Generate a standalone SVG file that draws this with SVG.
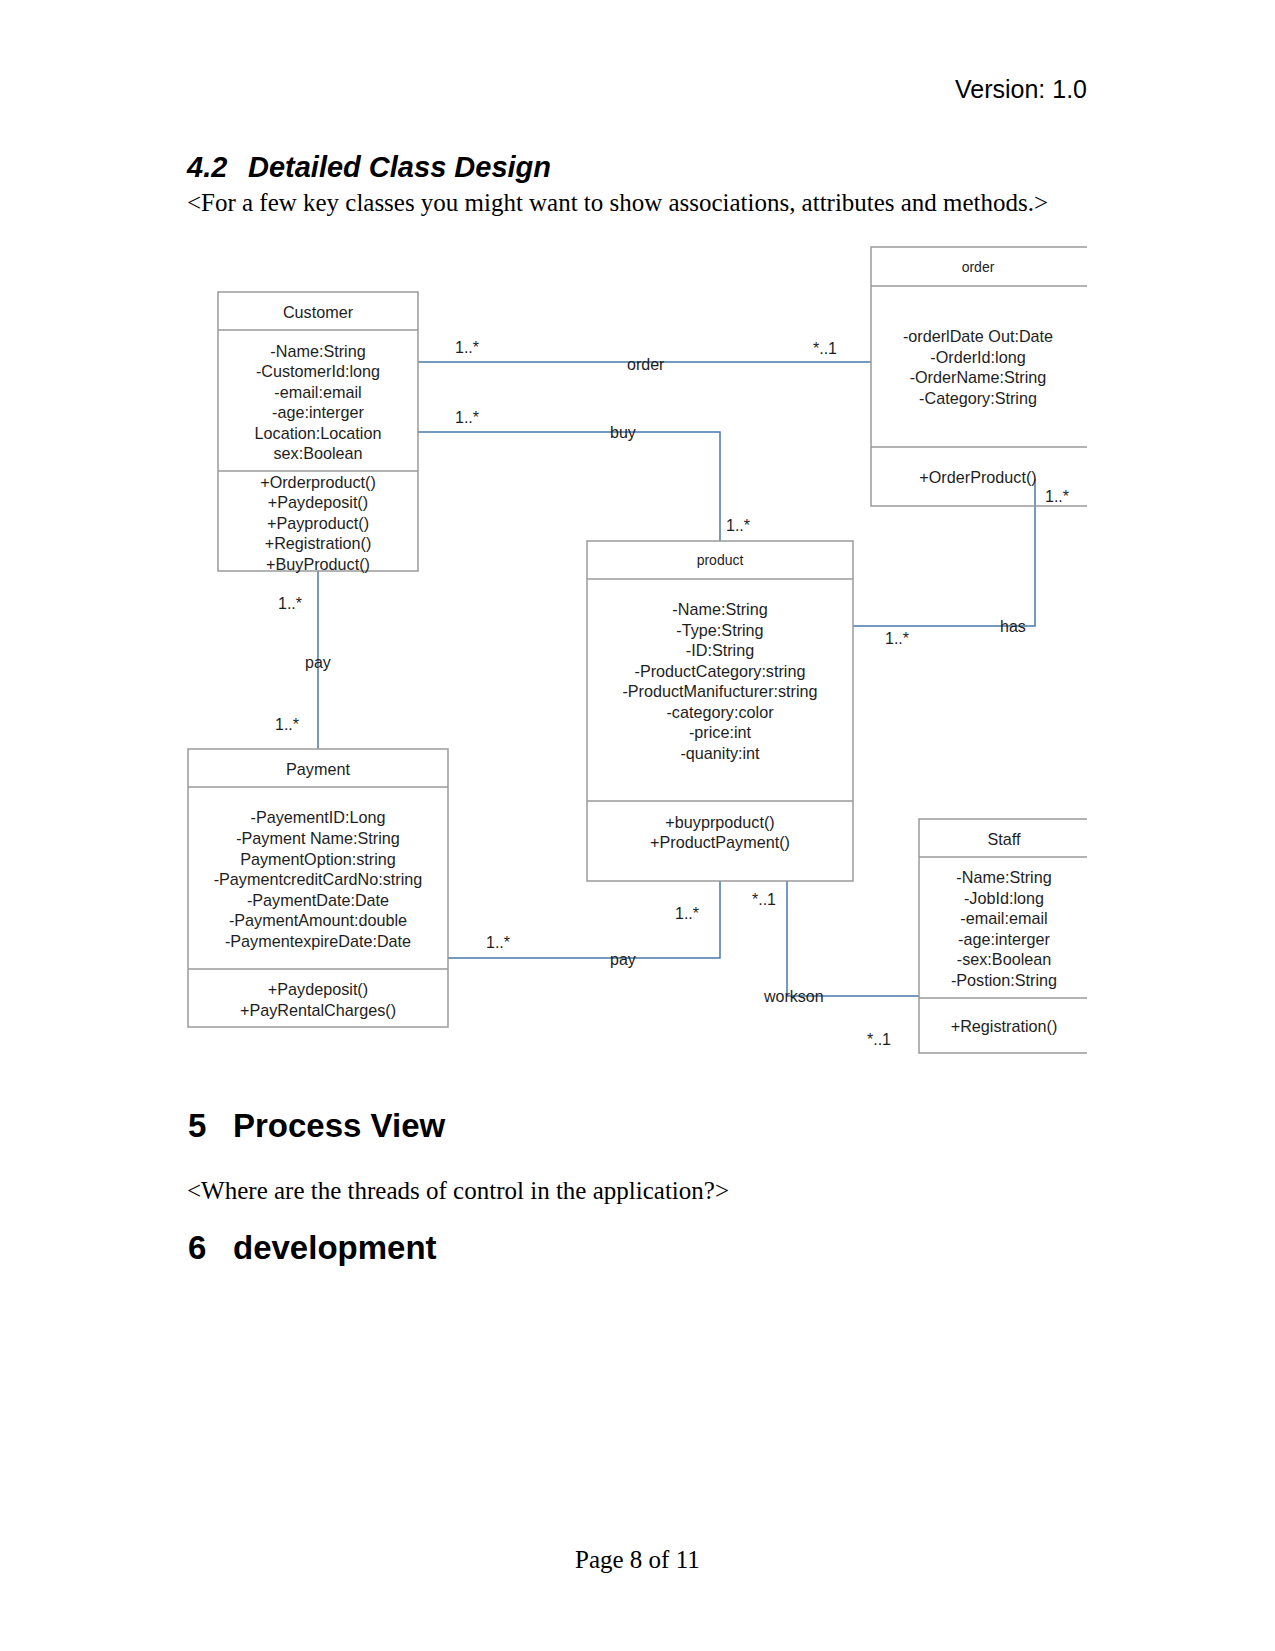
<svg xmlns="http://www.w3.org/2000/svg" width="1275" height="1651" viewBox="0 0 1275 1651">
<style>
.doc{font-family:"Liberation Sans",Arial,sans-serif;fill:#000}
.ser{font-family:"Liberation Serif","Times New Roman",serif;fill:#000;font-size:25px}
.box{fill:#fff;stroke:#9a9a9a;stroke-width:1.5}
.sep{stroke:#9a9a9a;stroke-width:1.5;fill:none}
.t{font-family:"Liberation Sans",Arial,sans-serif;font-size:16.2px;fill:#1e1e1e;text-anchor:middle}
.ts{font-family:"Liberation Sans",Arial,sans-serif;font-size:14px;fill:#1e1e1e;text-anchor:middle}
.lbl{font-family:"Liberation Sans",Arial,sans-serif;font-size:16px;fill:#1e1e1e}
.con{stroke:#4a7aab;stroke-width:1.5;fill:none}
</style>
<rect width="1275" height="1651" fill="#fff"/>

<text class="doc" x="1087" y="98" font-size="25" text-anchor="end">Version: 1.0</text>
<text class="doc" x="187" y="177" font-size="29" font-weight="bold" font-style="italic">4.2</text>
<text class="doc" x="248" y="177" font-size="29" font-weight="bold" font-style="italic">Detailed Class Design</text>
<text class="ser" x="187" y="211" textLength="861" lengthAdjust="spacingAndGlyphs">&lt;For a few key classes you might want to show associations, attributes and methods.&gt;</text>

<g id="connectors">
<polyline class="con" points="418,362 871,362"/>
<polyline class="con" points="418,432 720,432 720,541"/>
<polyline class="con" points="318,571 318,749"/>
<polyline class="con" points="853,626 1035,626 1035,479"/>
<polyline class="con" points="448,958 720,958 720,881"/>
<polyline class="con" points="787,881 787,996 919,996"/>
<text class="lbl" x="455" y="353">1..*</text>
<text class="lbl" x="813" y="354">*..1</text>
<text class="lbl" x="627" y="370">order</text>
<text class="lbl" x="455" y="423">1..*</text>
<text class="lbl" x="610" y="438">buy</text>
<text class="lbl" x="726" y="531">1..*</text>
<text class="lbl" x="1045" y="502">1..*</text>
<text class="lbl" x="1000" y="632">has</text>
<text class="lbl" x="885" y="644">1..*</text>
<text class="lbl" x="278" y="609">1..*</text>
<text class="lbl" x="305" y="668">pay</text>
<text class="lbl" x="275" y="730">1..*</text>
<text class="lbl" x="486" y="948">1..*</text>
<text class="lbl" x="610" y="965">pay</text>
<text class="lbl" x="675" y="919">1..*</text>
<text class="lbl" x="752" y="905">*..1</text>
<text class="lbl" x="764" y="1002">workson</text>
<text class="lbl" x="867" y="1045">*..1</text>
</g>

<g id="customer">
<rect class="box" x="218" y="292" width="200" height="279"/>
<line class="sep" x1="218" y1="330" x2="418" y2="330"/>
<line class="sep" x1="218" y1="471" x2="418" y2="471"/>
<text class="t" x="318" y="318">Customer</text>
<text class="t" x="318" y="357">-Name:String</text>
<text class="t" x="318" y="377">-CustomerId:long</text>
<text class="t" x="318" y="398">-email:email</text>
<text class="t" x="318" y="418">-age:interger</text>
<text class="t" x="318" y="439">Location:Location</text>
<text class="t" x="318" y="459">sex:Boolean</text>
<text class="t" x="318" y="488">+Orderproduct()</text>
<text class="t" x="318" y="508">+Paydeposit()</text>
<text class="t" x="318" y="529">+Payproduct()</text>
<text class="t" x="318" y="549">+Registration()</text>
<text class="t" x="318" y="570">+BuyProduct()</text>
</g>

<g id="order">
<polyline class="sep" points="1087,247 871,247 871,506 1087,506"/>
<line class="sep" x1="871" y1="286" x2="1087" y2="286"/>
<line class="sep" x1="871" y1="447" x2="1087" y2="447"/>
<text class="ts" x="978" y="272">order</text>
<text class="t" x="978" y="342">-orderlDate Out:Date</text>
<text class="t" x="978" y="363">-OrderId:long</text>
<text class="t" x="978" y="383">-OrderName:String</text>
<text class="t" x="978" y="404">-Category:String</text>
<text class="t" x="978" y="483">+OrderProduct()</text>
</g>

<g id="product">
<rect class="box" x="587" y="541" width="266" height="340"/>
<line class="sep" x1="587" y1="579" x2="853" y2="579"/>
<line class="sep" x1="587" y1="801" x2="853" y2="801"/>
<text class="ts" x="720" y="565">product</text>
<text class="t" x="720" y="615">-Name:String</text>
<text class="t" x="720" y="636">-Type:String</text>
<text class="t" x="720" y="656">-ID:String</text>
<text class="t" x="720" y="677">-ProductCategory:string</text>
<text class="t" x="720" y="697">-ProductManifucturer:string</text>
<text class="t" x="720" y="718">-category:color</text>
<text class="t" x="720" y="738">-price:int</text>
<text class="t" x="720" y="759">-quanity:int</text>
<text class="t" x="720" y="828">+buyprpoduct()</text>
<text class="t" x="720" y="848">+ProductPayment()</text>
</g>

<g id="payment">
<rect class="box" x="188" y="749" width="260" height="278"/>
<line class="sep" x1="188" y1="787" x2="448" y2="787"/>
<line class="sep" x1="188" y1="969" x2="448" y2="969"/>
<text class="t" x="318" y="775">Payment</text>
<text class="t" x="318" y="823">-PayementID:Long</text>
<text class="t" x="318" y="844">-Payment Name:String</text>
<text class="t" x="318" y="865">PaymentOption:string</text>
<text class="t" x="318" y="885">-PaymentcreditCardNo:string</text>
<text class="t" x="318" y="906">-PaymentDate:Date</text>
<text class="t" x="318" y="926">-PaymentAmount:double</text>
<text class="t" x="318" y="947">-PaymentexpireDate:Date</text>
<text class="t" x="318" y="995">+Paydeposit()</text>
<text class="t" x="318" y="1016">+PayRentalCharges()</text>
</g>

<g id="staff">
<polyline class="sep" points="1087,819 919,819 919,1053 1087,1053"/>
<line class="sep" x1="919" y1="857" x2="1087" y2="857"/>
<line class="sep" x1="919" y1="998" x2="1087" y2="998"/>
<text class="t" x="1004" y="845">Staff</text>
<text class="t" x="1004" y="883">-Name:String</text>
<text class="t" x="1004" y="904">-JobId:long</text>
<text class="t" x="1004" y="924">-email:email</text>
<text class="t" x="1004" y="945">-age:interger</text>
<text class="t" x="1004" y="965">-sex:Boolean</text>
<text class="t" x="1004" y="986">-Postion:String</text>
<text class="t" x="1004" y="1032">+Registration()</text>
</g>

<text class="doc" x="188" y="1137" font-size="33" font-weight="bold">5</text>
<text class="doc" x="233" y="1137" font-size="33" font-weight="bold">Process View</text>
<text class="ser" x="187" y="1199" textLength="542" lengthAdjust="spacingAndGlyphs">&lt;Where are the threads of control in the application?&gt;</text>
<text class="doc" x="188" y="1259" font-size="33" font-weight="bold">6</text>
<text class="doc" x="233" y="1259" font-size="33" font-weight="bold">development</text>
<text class="ser" x="575" y="1568">Page 8 of 11</text>
</svg>
